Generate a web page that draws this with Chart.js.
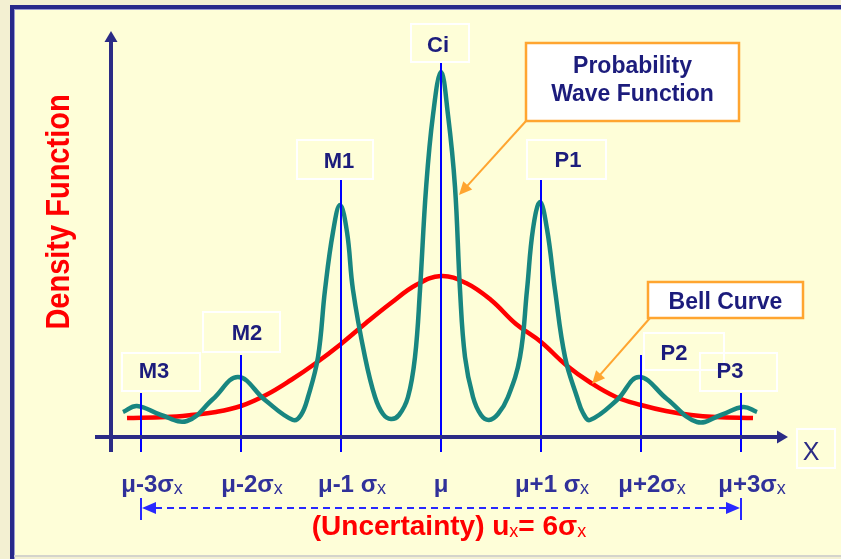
<!DOCTYPE html>
<html>
<head>
<meta charset="utf-8">
<script src="https://cdn.jsdelivr.net/npm/chart.js@4.4.1/dist/chart.umd.min.js"></script>
<style>
  html, body { margin: 0; padding: 0; background: #fefed8; }
  canvas { display: block; }
</style>
</head>
<body>
<canvas id="waveChart" width="841" height="559"></canvas>
<script>
// positions on the x axis, in units of sigma
const sigmaSteps = [-3, -2, -1, 0, 1, 2, 3];
const tickLabels = ['μ-3σ', 'μ-2σ', 'μ-1 σ', 'μ', 'μ+1 σ', 'μ+2σ', 'μ+3σ'];
const tickSubs = ['x', 'x', 'x', '', 'x', 'x', 'x'];
const peakLabels = ['M3', 'M2', 'M1', 'Ci', 'P1', 'P2', 'P3'];

// bell curve
const bellX = [-3.14, -2.75, -2.5, -2.25, -2.0, -1.75, -1.5, -1.25, -1.0, -0.75, -0.5, -0.25, 0,
               0.25, 0.5, 0.75, 1.0, 1.25, 1.5, 1.75, 2.0, 2.25, 2.5, 2.75, 3.12];
const bellY = [19, 20, 22, 25, 31, 42, 57, 74, 93, 114, 134, 152, 161,
               154, 137, 113, 95, 72, 54, 40, 32, 26, 22, 20, 19];

// probability wave function
const waveX = [-3.18, -3.04, -2.8, -2.54, -2.28, -2.03, -1.76, -1.48, -1.40, -1.33, -1.23, -1.16, -1.08,
               -1.01, -0.94, -0.88, -0.76, -0.66, -0.58, -0.50, -0.42, -0.33, -0.26, -0.21, -0.15, -0.08,
               0, 0.07, 0.14, 0.19, 0.24, 0.32, 0.40, 0.48, 0.57, 0.67, 0.79, 0.86, 0.92,
               0.99, 1.06, 1.14, 1.24, 1.36, 1.42, 1.49, 1.76, 1.98, 2.26, 2.56, 2.8, 3.02, 3.16];
const waveY = [25, 31, 22, 16, 38, 60, 37, 17, 22, 40, 80, 147, 205,
               232, 205, 147, 80, 40, 23, 18, 22, 40, 80, 147, 248, 322,
               365, 322, 250, 147, 80, 40, 22, 17, 23, 40, 80, 147, 208,
               235, 208, 147, 80, 40, 24, 17, 37, 60, 38, 15, 22, 30, 25];

const FONT = '"Liberation Sans", Arial, sans-serif';
const NAVY = '#1c1c7c';
const AXIS = '#2b2b85';
const ORANGE = '#ffa530';

// tops of the blue guide lines (y units) and label box layout (pixels, relative to guide)
const guideTops = [44, 82, 257, 374, 257, 82, 44];
const boxLayout = [
    { dx: -19, top: 353, w: 78, h: 38, tx: 13, base: 378 },
    { dx: -38, top: 312, w: 77, h: 40, tx: 6, base: 340 },
    { dx: -44, top: 140, w: 76, h: 39, tx: -2, base: 168 },
    { dx: -30, top: 24, w: 58, h: 38, tx: -3, base: 52 },
    { dx: -14, top: 140, w: 79, h: 39, tx: 27, base: 167 },
    { dx: 3, top: 333, w: 80, h: 37, tx: 33, base: 360 },
    { dx: -41, top: 353, w: 77, h: 38, tx: -11, base: 378 }
];

function arrowHead(ctx, fx, fy, tx, ty, len, half) {
    const a = Math.atan2(ty - fy, tx - fx);
    ctx.beginPath();
    ctx.moveTo(tx, ty);
    ctx.lineTo(tx - len * Math.cos(a) + half * Math.sin(a), ty - len * Math.sin(a) - half * Math.cos(a));
    ctx.lineTo(tx - len * Math.cos(a) - half * Math.sin(a), ty - len * Math.sin(a) + half * Math.cos(a));
    ctx.closePath();
    ctx.fill();
}

// draws text made of pieces (main + subscript)
function drawPieces(ctx, pieces, x, y, align) {
    let total = 0;
    pieces.forEach(p => { ctx.font = p.font; p.w = ctx.measureText(p.t).width; total += p.w; });
    let cx = align === 'center' ? x - total / 2 : x;
    ctx.textAlign = 'left';
    ctx.textBaseline = 'alphabetic';
    pieces.forEach(p => {
        ctx.font = p.font;
        ctx.fillStyle = p.color;
        ctx.fillText(p.t, cx, y + (p.dy || 0));
        cx += p.w;
    });
}

function callout(ctx, box, lines, from, tip) {
    ctx.fillStyle = '#ffffff';
    ctx.fillRect(box.x, box.y, box.w, box.h);
    ctx.strokeStyle = ORANGE;
    ctx.lineWidth = 2.5;
    ctx.strokeRect(box.x, box.y, box.w, box.h);
    ctx.fillStyle = NAVY;
    ctx.font = 'bold 23px ' + FONT;
    ctx.textAlign = 'center';
    ctx.textBaseline = 'alphabetic';
    lines.forEach(l => ctx.fillText(l.t, box.x + box.w / 2, l.y));
    ctx.strokeStyle = ORANGE;
    ctx.lineWidth = 2;
    ctx.beginPath();
    ctx.moveTo(from[0], from[1]);
    ctx.lineTo(tip[0] + (from[0] - tip[0]) * 0.12, tip[1] + (from[1] - tip[1]) * 0.12);
    ctx.stroke();
    ctx.fillStyle = ORANGE;
    arrowHead(ctx, from[0], from[1], tip[0], tip[1], 13, 6);
}

const framePlugin = {
    id: 'frame',
    beforeDraw(chart) {
        const ctx = chart.ctx;
        ctx.save();
        ctx.fillStyle = '#f3f0d2';
        ctx.fillRect(0, 0, 841, 559);
        ctx.fillStyle = '#fefed8';
        ctx.fillRect(14, 9, 827, 547);
        ctx.fillStyle = '#27288a';
        ctx.fillRect(10, 5, 831, 4);
        ctx.fillRect(10, 5, 4, 554);
        ctx.fillStyle = '#9a9ad0';
        ctx.fillRect(14, 9, 827, 1);
        ctx.fillRect(14, 9, 1, 550);
        ctx.fillStyle = '#d4d4cc';
        ctx.fillRect(14, 555, 827, 2);
        ctx.restore();
    }
};

const decorPlugin = {
    id: 'decor',
    afterDatasetsDraw(chart) {
        const ctx = chart.ctx;
        const xs = chart.scales.x, ys = chart.scales.y;
        const y0 = ys.getPixelForValue(0);
        ctx.save();

        // label boxes
        sigmaSteps.forEach((s, i) => {
            const gx = xs.getPixelForValue(s);
            const b = boxLayout[i];
            ctx.strokeStyle = '#ffffff';
            ctx.lineWidth = 2;
            ctx.strokeRect(gx + b.dx, b.top, b.w, b.h);
        });
        // X box
        ctx.strokeRect(797, 429, 38, 39);

        // blue guide lines
        ctx.strokeStyle = '#0000ff';
        ctx.lineWidth = 2;
        sigmaSteps.forEach((s, i) => {
            const gx = Math.round(xs.getPixelForValue(s));
            ctx.beginPath();
            ctx.moveTo(gx, ys.getPixelForValue(-15));
            ctx.lineTo(gx, ys.getPixelForValue(guideTops[i]));
            ctx.stroke();
        });

        // axes
        const ax = xs.getPixelForValue(-3.3);
        ctx.strokeStyle = AXIS;
        ctx.fillStyle = AXIS;
        ctx.lineWidth = 4;
        ctx.beginPath();
        ctx.moveTo(ax, ys.getPixelForValue(-15));
        ctx.lineTo(ax, 40);
        ctx.stroke();
        arrowHead(ctx, ax, 60, ax, 31, 11, 6.5);
        ctx.beginPath();
        ctx.moveTo(xs.getPixelForValue(-3.46), y0);
        ctx.lineTo(778, y0);
        ctx.stroke();
        arrowHead(ctx, 760, y0, 788, y0, 11, 6.5);

        // peak labels
        ctx.fillStyle = NAVY;
        ctx.font = 'bold 22px ' + FONT;
        ctx.textAlign = 'center';
        ctx.textBaseline = 'alphabetic';
        peakLabels.forEach((lab, i) => {
            const gx = xs.getPixelForValue(sigmaSteps[i]);
            ctx.fillText(lab, gx + boxLayout[i].tx, boxLayout[i].base);
        });

        // X label
        ctx.fillStyle = AXIS;
        ctx.font = '25px ' + FONT;
        ctx.fillText('X', 811, 460);

        // tick labels
        sigmaSteps.forEach((s, i) => {
            const gx = xs.getPixelForValue(s);
            const pieces = [{ t: tickLabels[i], font: 'bold 24px ' + FONT, color: '#30319a' }];
            if (tickSubs[i]) pieces.push({ t: tickSubs[i], font: '18px ' + FONT, color: '#30319a', dy: 2 });
            drawPieces(ctx, pieces, gx + (tickSubs[i] ? 11 : 0), 492, 'center');
        });

        // uncertainty range arrow
        const lx = xs.getPixelForValue(sigmaSteps[0]);
        const rx = xs.getPixelForValue(sigmaSteps[sigmaSteps.length - 1]);
        const ry = 508;
        ctx.strokeStyle = '#2828ff';
        ctx.fillStyle = '#2828ff';
        ctx.lineWidth = 2;
        ctx.setLineDash([7, 5]);
        ctx.beginPath();
        ctx.moveTo(lx + 14, ry);
        ctx.lineTo(rx - 14, ry);
        ctx.stroke();
        ctx.setLineDash([]);
        ctx.beginPath();
        ctx.moveTo(lx, ry - 10); ctx.lineTo(lx, ry + 12);
        ctx.moveTo(rx, ry - 10); ctx.lineTo(rx, ry + 12);
        ctx.stroke();
        arrowHead(ctx, lx + 20, ry, lx + 1, ry, 14, 6);
        arrowHead(ctx, rx - 20, ry, rx - 1, ry, 14, 6);

        // uncertainty caption
        const big = 'bold 28px ' + FONT, sub = '18px ' + FONT;
        drawPieces(ctx, [
            { t: '(Uncertainty) u', font: big, color: '#ff0000' },
            { t: 'x', font: sub, color: '#ff0000', dy: 2 },
            { t: '= 6σ', font: big, color: '#ff0000' },
            { t: 'x', font: sub, color: '#ff0000', dy: 2 }
        ], 449, 535, 'center');

        // y title
        ctx.save();
        ctx.translate(69, 212);
        ctx.rotate(-Math.PI / 2);
        ctx.scale(1, 1.12);
        ctx.fillStyle = '#ff0000';
        ctx.font = 'bold 29px ' + FONT;
        ctx.textAlign = 'center';
        ctx.textBaseline = 'alphabetic';
        ctx.fillText('Density Function', 0, 0);
        ctx.restore();

        // callouts
        callout(ctx, { x: 526, y: 43, w: 213, h: 78 },
            [{ t: 'Probability', y: 73 }, { t: 'Wave Function', y: 101 }],
            [526, 121], [459, 195]);
        callout(ctx, { x: 648, y: 282, w: 155, h: 36 },
            [{ t: 'Bell Curve', y: 309 }],
            [650, 318], [592, 384]);

        ctx.restore();
    }
};

function toPoints(xs, ys) {
    return xs.map((x, i) => ({ x: x, y: ys[i] }));
}

new Chart(document.getElementById('waveChart'), {
    type: 'line',
    data: {
        datasets: [
            {
                label: 'Probability Wave Function',
                data: toPoints(waveX, waveY),
                borderColor: '#188680',
                borderWidth: 4.5,
                pointRadius: 0,
                tension: 0.4,
                fill: false,
                order: 1
            },
            {
                label: 'Bell Curve',
                data: toPoints(bellX, bellY),
                borderColor: '#ff0000',
                borderWidth: 4.5,
                pointRadius: 0,
                tension: 0.4,
                fill: false,
                order: 2
            }
        ]
    },
    options: {
        responsive: false,
        animation: false,
        layout: { padding: { left: 41, right: 0, top: 37, bottom: 122 } },
        scales: {
            x: { type: 'linear', min: -4, max: 4, display: false },
            y: { type: 'linear', min: 0, max: 400, display: false }
        },
        plugins: {
            legend: { display: false },
            tooltip: { enabled: false }
        }
    },
    plugins: [framePlugin, decorPlugin]
});
</script>
</body>
</html>
